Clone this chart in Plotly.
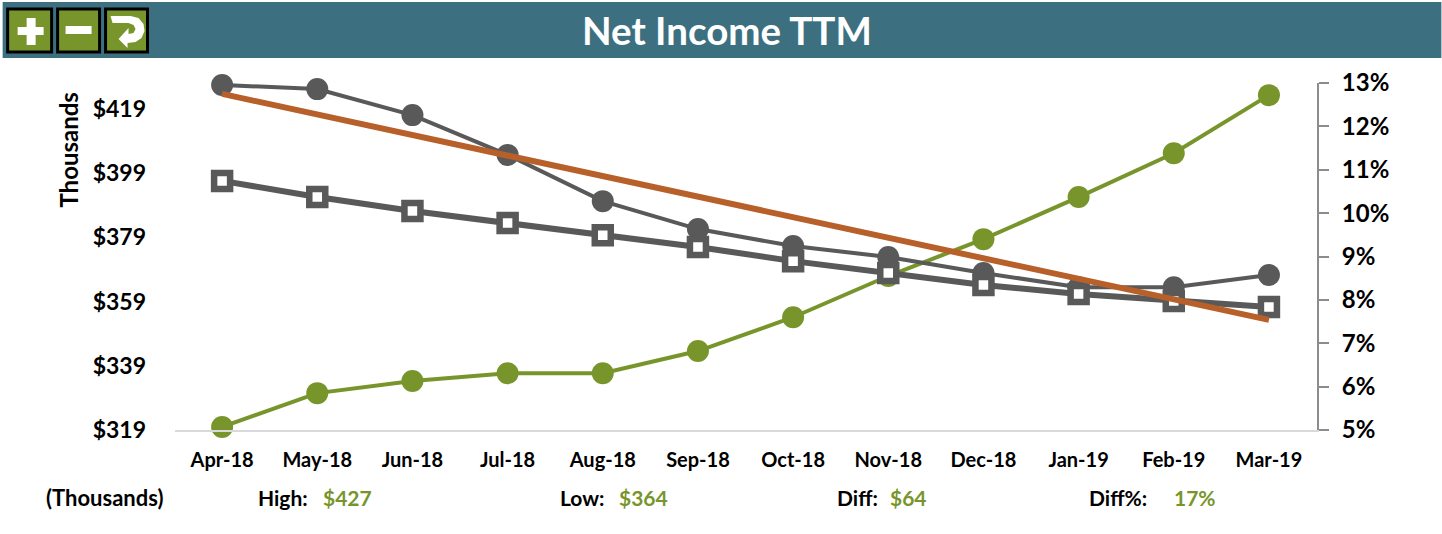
import plotly.graph_objects as go

months = ["Apr-18", "May-18", "Jun-18", "Jul-18", "Aug-18", "Sep-18",
          "Oct-18", "Nov-18", "Dec-18", "Jan-19", "Feb-19", "Mar-19"]
net_income = [426.5, 425.2, 417.1, 404.7, 390.3, 381.6, 376.3, 372.9, 367.9, 363.5, 363.5, 367.3]
rolling_avg = [396.6, 391.6, 387.2, 383.5, 379.7, 376.0, 371.6, 367.9, 364.2, 361.4, 359.2, 357.3]
trend_months = ["Apr-18", "Mar-19"]
trend_values = [423.7, 353.3]
margin_pct = [5.07, 5.85, 6.13, 6.31, 6.31, 6.82, 7.6, 8.55, 9.4, 10.37, 11.38, 12.72]

left_ticks = [319, 339, 359, 379, 399, 419]
left_labels = ["$319", "$339", "$359", "$379", "$399", "$419"]
right_ticks = [5, 6, 7, 8, 9, 10, 11, 12, 13]
right_labels = ["5%", "6%", "7%", "8%", "9%", "10%", "11%", "12%", "13%"]

summary = [("High:", 256, "$427", 321), ("Low:", 558, "$364", 617),
           ("Diff:", 835, "$64", 888), ("Diff%:", 1087, "17%", 1172)]

W, H = 1442, 534
L, R, T, B = 174.5, 1317.5, 83, 430
FONT = "Lato"
GREEN = "#78952C"
DARK = "#595959"
ORANGE = "#B8602A"
TEAL = "#3C7080"


def px(x):
    return (x - L) / (R - L)


def py(y):
    return (B - y) / (B - T)


def box(x0, y0, x1, y1, fill, line=None, width=0):
    return dict(type="rect", xref="paper", yref="paper", layer="above",
                x0=px(x0), x1=px(x1), y0=py(y1), y1=py(y0), fillcolor=fill,
                line=dict(color=line or fill, width=width))


def text(x, y, s, size, color="black", anchor="left", angle=0):
    return dict(xref="paper", yref="paper", x=px(x), y=py(y), text=f"<b>{s}</b>", showarrow=False,
                xanchor=anchor, yanchor="middle", textangle=angle,
                font=dict(family=FONT, size=size, color=color))


fig = go.Figure()

# green goes on the first axis so it sits under the others
fig.add_trace(go.Scatter(x=months, y=margin_pct, yaxis="y", mode="lines+markers", cliponaxis=False,
                         line=dict(color=GREEN, width=4), marker=dict(color=GREEN, size=22)))
fig.add_trace(go.Scatter(x=months, y=net_income, yaxis="y2", mode="lines+markers", cliponaxis=False,
                         line=dict(color=DARK, width=4), marker=dict(color=DARK, size=22)))
fig.add_trace(go.Scatter(x=months, y=rolling_avg, yaxis="y2", mode="lines+markers", cliponaxis=False,
                         line=dict(color=DARK, width=6),
                         marker=dict(color="white", size=16, symbol="square", line=dict(color=DARK, width=6.5))))
fig.add_trace(go.Scatter(x=trend_months, y=trend_values, yaxis="y2", mode="lines", cliponaxis=False,
                         line=dict(color=ORANGE, width=6)))

# header band and buttons
shapes = [box(2, 2, W, 58, TEAL)]
for x0, x1 in [(7, 51), (57, 99), (105, 147)]:
    shapes.append(box(x0, 9, x1, 52, GREEN, "black", 3))
shapes.append(box(17, 27, 43, 35, "white"))
shapes.append(box(26, 18, 35, 45, "white"))
shapes.append(box(65, 26, 91, 34, "white"))

arrow = [("M", 110, 16), ("L", 130, 16), ("L", 138, 18), ("L", 143, 24), ("L", 144, 31), ("L", 141, 38),
         ("L", 135, 42), ("L", 127, 43), ("L", 127, 48), ("L", 118, 39), ("L", 128, 28), ("L", 128, 34),
         ("L", 133, 33), ("L", 135, 29), ("L", 133, 25), ("L", 128, 23), ("L", 112, 23)]
path = " ".join(f"{c}{px(x):.5f},{py(y):.5f}" for c, x, y in arrow) + " Z"
shapes.append(dict(type="path", xref="paper", yref="paper", layer="above", path=path,
                   fillcolor="white", line=dict(color="white", width=0)))

notes = [text(727, 30, "Net Income TTM", 38.5, "white", "center"),
         text(67, 150, "Thousands", 24, angle=-90, anchor="center"),
         text(104, 497, "(Thousands)", 22, anchor="center")]
for label, lx, val, vx in summary:
    notes.append(text(lx, 497, label, 21))
    notes.append(text(vx, 497, val, 21, GREEN))

fig.update_layout(
    width=W, height=H, autosize=False,
    margin=dict(l=L, r=W - R, t=T, b=H - B, pad=0),
    paper_bgcolor="white", plot_bgcolor="white",
    showlegend=False,
    shapes=shapes, annotations=notes,
    xaxis=dict(type="category", categoryorder="array", categoryarray=months, range=[-0.495, 11.505],
               showgrid=False, zeroline=False, showline=True, linecolor="#D9D9D9", linewidth=2,
               ticks="", ticklabelstandoff=11, tickfont=dict(family=FONT, size=20, color="black", weight="bold")),
    yaxis=dict(side="right", range=[5, 13], tickvals=right_ticks, ticktext=right_labels,
               showgrid=False, zeroline=False, showline=True, linecolor="#8C8C8C", linewidth=2,
               ticks="outside", ticklen=10, tickwidth=2, tickcolor="#8C8C8C", ticklabelstandoff=8,
               tickfont=dict(family=FONT, size=24, color="black", weight="bold")),
    yaxis2=dict(side="left", overlaying="y", range=[319, 427.1], tickvals=left_ticks, ticktext=left_labels,
                showgrid=False, zeroline=False, showline=False, ticks="", ticklabelstandoff=28,
                tickfont=dict(family=FONT, size=23, color="black", weight="bold")),
)

fig.write_html("out.html", config=dict(displayModeBar=False),
               post_script="document.body.style.margin='0';document.body.style.overflow='hidden';")
